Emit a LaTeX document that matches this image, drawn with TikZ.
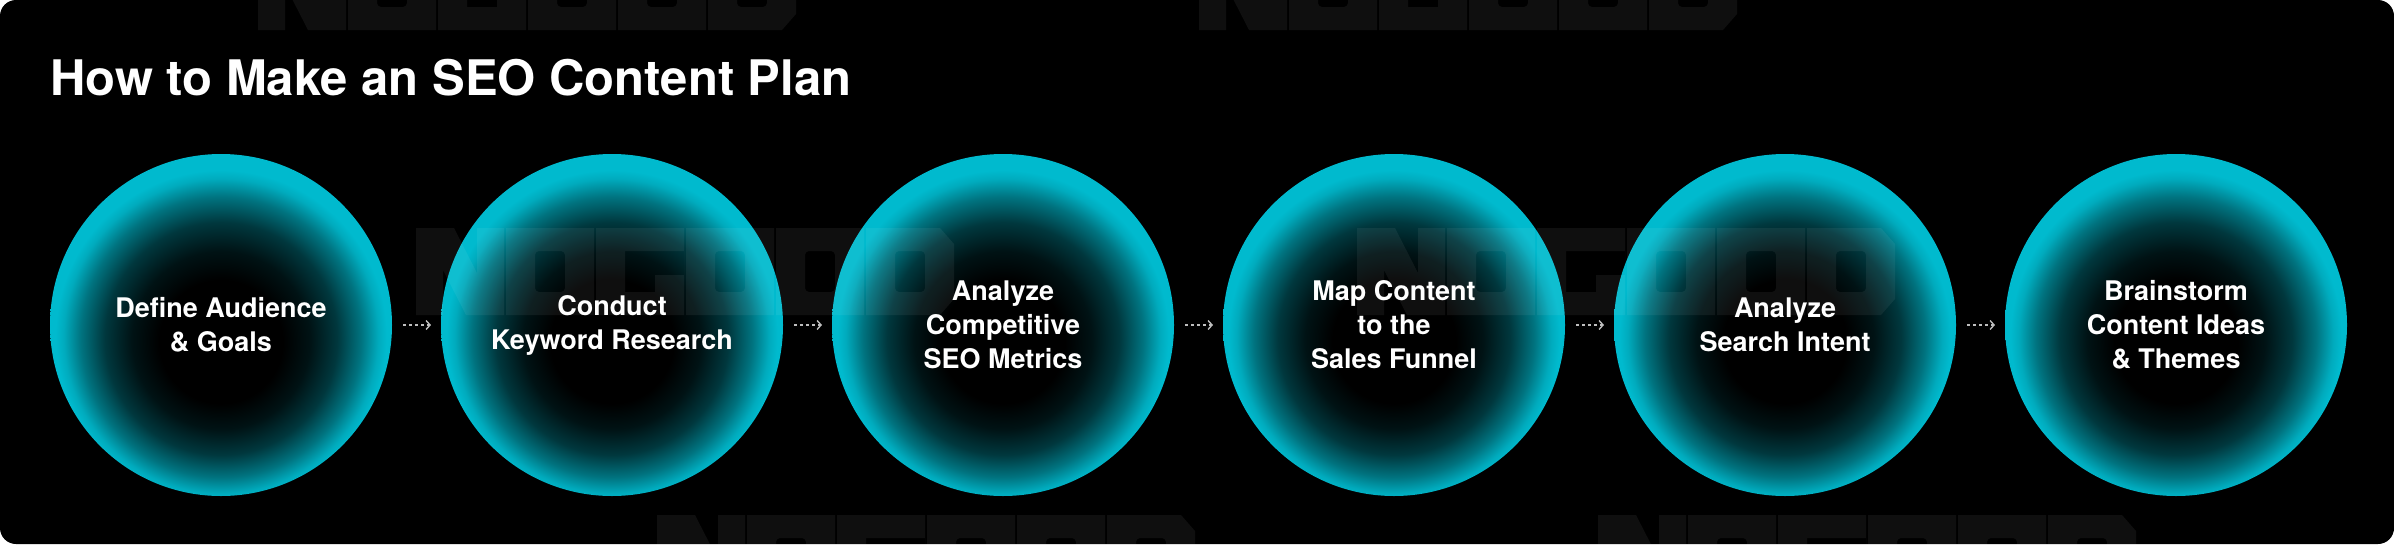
\documentclass[tikz,border=0pt]{standalone}
\usepackage{fontspec}
\setmainfont{TeX Gyre Heros}
\usetikzlibrary{arrows.meta}
\definecolor{cy}{RGB}{0,186,206}
\definecolor{dashgray}{RGB}{190,190,190}
\pgfdeclareradialshading{glow}{\pgfpoint{0bp}{-3bp}}{color(0bp)=(black); color(9bp)=(black); color(13bp)=(cy!10!black); color(17bp)=(cy!30!black); color(20.5bp)=(cy!62!black); color(23bp)=(cy!92!black); color(24.2bp)=(cy); color(25bp)=(cy); color(50bp)=(cy)}
\tikzset{
  stepcircle/.style={circle, inner sep=0pt, outer sep=0pt, minimum size=342pt, shading=glow, text=white, align=center, font=\fontsize{27}{34}\selectfont\bfseries},
  conn/.style={draw=dashgray, line width=1.4pt, dash pattern=on 3pt off 3pt, -{Straight Barb[length=4pt,width=9pt,line width=1.4pt]}, shorten <=11pt, shorten >=10pt},
  wm/.style={fill=white, fill opacity=0.06, even odd rule},
}
\newcommand\wmark[2]{%
  \begin{scope}[shift={(#1,#2)}]
    \fill[wm] (0,0)--(38,0)--(61,45)--(61,0)--(88,0)--(88,87)--(50,87)--(27,42)--(27,87)--(0,87)--cycle;
    \fill[wm] (90,0) rectangle (178,87) {[rounded corners=4pt] (119,23) rectangle (149,64)};
    \fill[wm] (180,0) rectangle (268,87) (209,23)--(268,23)--(268,47)--(239,47)--(239,64)--(209,64)--cycle;
    \fill[wm] (270,0) rectangle (358,87) {[rounded corners=4pt] (299,23) rectangle (329,64)};
    \fill[wm] (360,0) rectangle (448,87) {[rounded corners=4pt] (389,23) rectangle (419,64)};
    \fill[wm] (450,0)--(524,0)--(538,16)--(538,71)--(524,87)--(450,87)--cycle {[rounded corners=4pt] (479,23) rectangle (509,64)};
  \end{scope}}
\begin{document}
\begin{tikzpicture}[x=1pt,y=-1pt]
\useasboundingbox (0,0) rectangle (2394,544);
\fill[white] (0,0) rectangle (2394,544);
\fill[black, rounded corners=16pt] (0,0) rectangle (2394,544);
\node[anchor=base west, text=white, font=\fontsize{49}{58}\selectfont\bfseries, inner sep=0pt] (title) at (50,95) {How to Make an SEO Content Plan};
\node[stepcircle] (c1) at (221,325) {Define Audience\\\& Goals};
\node[stepcircle] (c2) at (612,325) {Conduct\\Keyword Research};
\node[stepcircle] (c3) at (1003,325) {Analyze\\Competitive\\SEO Metrics};
\node[stepcircle] (c4) at (1394,325) {Map Content\\to the\\Sales Funnel};
\node[stepcircle] (c5) at (1785,325) {Analyze\\Search Intent};
\node[stepcircle] (c6) at (2176,325) {Brainstorm\\Content Ideas\\\& Themes};
\begin{scope}
\clip[rounded corners=16pt] (0,0) rectangle (2394,544);
\wmark{258}{-57}
\wmark{1199}{-57}
\wmark{416}{228}
\wmark{1357}{228}
\wmark{657}{515}
\wmark{1598}{515}
\end{scope}
\draw[conn] (c1) -- (c2);
\draw[conn] (c2) -- (c3);
\draw[conn] (c3) -- (c4);
\draw[conn] (c4) -- (c5);
\draw[conn] (c5) -- (c6);
\end{tikzpicture}
\end{document}
